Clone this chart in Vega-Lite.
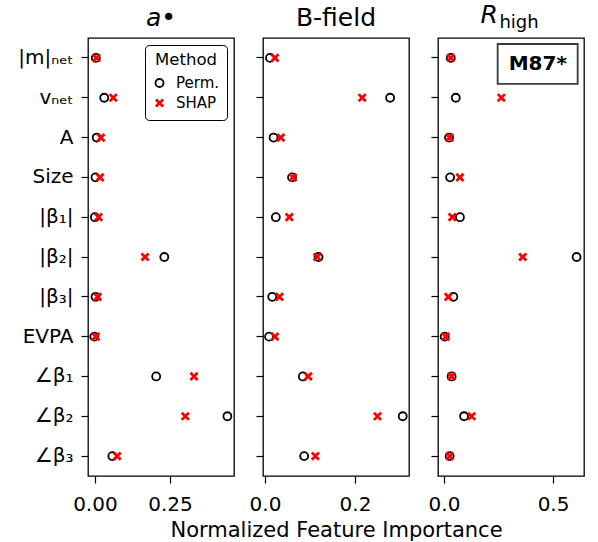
{
  "$schema": "https://vega.github.io/schema/vega-lite/v6.json",
  "padding": {"left": 17, "right": 5, "top": 3, "bottom": 3},
  "background": "white",
  "config": {
    "font": "DejaVu Sans",
    "view": {"stroke": "black", "strokeWidth": 1.3},
    "axis": {"domain": false, "ticks": true, "tickColor": "black", "tickSize": 7, "tickWidth": 1.2, "labelColor": "black", "labelFont": "DejaVu Sans", "labelFontSize": 20, "grid": false, "titleFont": "DejaVu Sans", "titleFontSize": 21, "titleFontWeight": "normal", "titleColor": "black"},
    "title": {"font": "DejaVu Sans", "fontSize": 25, "fontWeight": "normal", "color": "black", "offset": 7, "anchor": "middle"}
  },
  "datasets": {
    "imp": [
      {"panel": "a", "feature": "|m|ₙₑₜ", "method": "Perm.", "value": 0.003},
      {"panel": "a", "feature": "vₙₑₜ", "method": "Perm.", "value": 0.031},
      {"panel": "a", "feature": "A", "method": "Perm.", "value": 0.006},
      {"panel": "a", "feature": "Size", "method": "Perm.", "value": 0.002},
      {"panel": "a", "feature": "|β₁|", "method": "Perm.", "value": 0.0},
      {"panel": "a", "feature": "|β₂|", "method": "Perm.", "value": 0.231},
      {"panel": "a", "feature": "|β₃|", "method": "Perm.", "value": 0.002},
      {"panel": "a", "feature": "EVPA", "method": "Perm.", "value": -0.002},
      {"panel": "a", "feature": "∠β₁", "method": "Perm.", "value": 0.204},
      {"panel": "a", "feature": "∠β₂", "method": "Perm.", "value": 0.441},
      {"panel": "a", "feature": "∠β₃", "method": "Perm.", "value": 0.058},
      {"panel": "B", "feature": "|m|ₙₑₜ", "method": "Perm.", "value": 0.011},
      {"panel": "B", "feature": "vₙₑₜ", "method": "Perm.", "value": 0.278},
      {"panel": "B", "feature": "A", "method": "Perm.", "value": 0.019},
      {"panel": "B", "feature": "Size", "method": "Perm.", "value": 0.060},
      {"panel": "B", "feature": "|β₁|", "method": "Perm.", "value": 0.024},
      {"panel": "B", "feature": "|β₂|", "method": "Perm.", "value": 0.119},
      {"panel": "B", "feature": "|β₃|", "method": "Perm.", "value": 0.016},
      {"panel": "B", "feature": "EVPA", "method": "Perm.", "value": 0.009},
      {"panel": "B", "feature": "∠β₁", "method": "Perm.", "value": 0.084},
      {"panel": "B", "feature": "∠β₂", "method": "Perm.", "value": 0.306},
      {"panel": "B", "feature": "∠β₃", "method": "Perm.", "value": 0.087},
      {"panel": "R", "feature": "|m|ₙₑₜ", "method": "Perm.", "value": 0.031},
      {"panel": "R", "feature": "vₙₑₜ", "method": "Perm.", "value": 0.054},
      {"panel": "R", "feature": "A", "method": "Perm.", "value": 0.023},
      {"panel": "R", "feature": "Size", "method": "Perm.", "value": 0.028},
      {"panel": "R", "feature": "|β₁|", "method": "Perm.", "value": 0.073},
      {"panel": "R", "feature": "|β₂|", "method": "Perm.", "value": 0.608},
      {"panel": "R", "feature": "|β₃|", "method": "Perm.", "value": 0.043},
      {"panel": "R", "feature": "EVPA", "method": "Perm.", "value": 0.003},
      {"panel": "R", "feature": "∠β₁", "method": "Perm.", "value": 0.035},
      {"panel": "R", "feature": "∠β₂", "method": "Perm.", "value": 0.092},
      {"panel": "R", "feature": "∠β₃", "method": "Perm.", "value": 0.026},
      {"panel": "a", "feature": "|m|ₙₑₜ", "method": "SHAP", "value": 0.005},
      {"panel": "a", "feature": "vₙₑₜ", "method": "SHAP", "value": 0.061},
      {"panel": "a", "feature": "A", "method": "SHAP", "value": 0.020},
      {"panel": "a", "feature": "Size", "method": "SHAP", "value": 0.017},
      {"panel": "a", "feature": "|β₁|", "method": "SHAP", "value": 0.012},
      {"panel": "a", "feature": "|β₂|", "method": "SHAP", "value": 0.167},
      {"panel": "a", "feature": "|β₃|", "method": "SHAP", "value": 0.009},
      {"panel": "a", "feature": "EVPA", "method": "SHAP", "value": 0.003},
      {"panel": "a", "feature": "∠β₁", "method": "SHAP", "value": 0.330},
      {"panel": "a", "feature": "∠β₂", "method": "SHAP", "value": 0.301},
      {"panel": "a", "feature": "∠β₃", "method": "SHAP", "value": 0.074},
      {"panel": "B", "feature": "|m|ₙₑₜ", "method": "SHAP", "value": 0.022},
      {"panel": "B", "feature": "vₙₑₜ", "method": "SHAP", "value": 0.216},
      {"panel": "B", "feature": "A", "method": "SHAP", "value": 0.035},
      {"panel": "B", "feature": "Size", "method": "SHAP", "value": 0.062},
      {"panel": "B", "feature": "|β₁|", "method": "SHAP", "value": 0.054},
      {"panel": "B", "feature": "|β₂|", "method": "SHAP", "value": 0.116},
      {"panel": "B", "feature": "|β₃|", "method": "SHAP", "value": 0.032},
      {"panel": "B", "feature": "EVPA", "method": "SHAP", "value": 0.022},
      {"panel": "B", "feature": "∠β₁", "method": "SHAP", "value": 0.096},
      {"panel": "B", "feature": "∠β₂", "method": "SHAP", "value": 0.250},
      {"panel": "B", "feature": "∠β₃", "method": "SHAP", "value": 0.112},
      {"panel": "R", "feature": "|m|ₙₑₜ", "method": "SHAP", "value": 0.031},
      {"panel": "R", "feature": "vₙₑₜ", "method": "SHAP", "value": 0.263},
      {"panel": "R", "feature": "A", "method": "SHAP", "value": 0.025},
      {"panel": "R", "feature": "Size", "method": "SHAP", "value": 0.073},
      {"panel": "R", "feature": "|β₁|", "method": "SHAP", "value": 0.038},
      {"panel": "R", "feature": "|β₂|", "method": "SHAP", "value": 0.361},
      {"panel": "R", "feature": "|β₃|", "method": "SHAP", "value": 0.020},
      {"panel": "R", "feature": "EVPA", "method": "SHAP", "value": 0.008},
      {"panel": "R", "feature": "∠β₁", "method": "SHAP", "value": 0.035},
      {"panel": "R", "feature": "∠β₂", "method": "SHAP", "value": 0.127},
      {"panel": "R", "feature": "∠β₃", "method": "SHAP", "value": 0.026}
    ]
  },
  "spacing": 29,
  "bounds": "flush",
  "resolve": {"scale": {"x": "independent", "color": "independent", "shape": "independent", "size": "independent", "strokeWidth": "independent"}, "legend": {"color": "independent", "shape": "independent"}},
  "hconcat": [
    {
      "width": 146, "height": 438,
      "title": {"text": "a•", "fontStyle": "italic"},
      "data": {"name": "imp"},
      "transform": [{"filter": "datum.panel === 'a'"}],
      "mark": {"type": "point", "filled": false, "opacity": 1},
      "encoding": {
        "x": {"field": "value", "type": "quantitative", "scale": {"domain": [-0.023, 0.463], "nice": false, "zero": false}, "axis": {"values": [0, 0.25], "format": ".2f", "title": null, "labelPadding": 11}},
        "y": {"field": "feature", "type": "nominal", "sort": ["|m|ₙₑₜ", "vₙₑₜ", "A", "Size", "|β₁|", "|β₂|", "|β₃|", "EVPA", "∠β₁", "∠β₂", "∠β₃"], "scale": {"type": "band", "paddingInner": 0, "paddingOuter": 0}, "axis": {"title": null, "labelPadding": 8}},
        "color": {"field": "method", "type": "nominal", "scale": {"domain": ["Perm.", "SHAP"], "range": ["black", "red"]}, "legend": {"title": "Method", "orient": "top-right", "offset": 7, "strokeColor": "black", "fillColor": "white", "padding": 7, "cornerRadius": 4, "titleAnchor": "middle", "titleFontSize": 16.5, "titleFontWeight": "normal", "titleColor": "black", "labelFontSize": 15, "labelColor": "black", "symbolSize": 35, "symbolStrokeWidth": 2.2, "symbolOffset": 0, "rowPadding": 2, "titlePadding": 7, "labelOffset": 9}},
        "shape": {"field": "method", "type": "nominal", "scale": {"domain": ["Perm.", "SHAP"], "range": ["circle", "M-1,-1L1,1M1,-1L-1,1"]}},
        "size": {"field": "method", "type": "nominal", "scale": {"domain": ["Perm.", "SHAP"], "range": [64, 52]}, "legend": null},
        "strokeWidth": {"field": "method", "type": "nominal", "scale": {"domain": ["Perm.", "SHAP"], "range": [1.8, 2.8]}, "legend": null}
      }
    },
    {
      "width": 146, "height": 438,
      "title": {"text": "B-field"},
      "data": {"name": "imp"},
      "transform": [{"filter": "datum.panel === 'B'"}],
      "mark": {"type": "point", "filled": false, "opacity": 1},
      "encoding": {
        "x": {"field": "value", "type": "quantitative", "scale": {"domain": [-0.0045, 0.32], "nice": false, "zero": false}, "axis": {"values": [0, 0.2], "format": ".1f", "title": "Normalized Feature Importance", "labelPadding": 11, "titlePadding": 5}},
        "y": {"field": "feature", "type": "nominal", "sort": ["|m|ₙₑₜ", "vₙₑₜ", "A", "Size", "|β₁|", "|β₂|", "|β₃|", "EVPA", "∠β₁", "∠β₂", "∠β₃"], "scale": {"type": "band", "paddingInner": 0, "paddingOuter": 0}, "axis": {"title": null, "labels": false}},
        "color": {"field": "method", "type": "nominal", "scale": {"domain": ["Perm.", "SHAP"], "range": ["black", "red"]}, "legend": null},
        "shape": {"field": "method", "type": "nominal", "scale": {"domain": ["Perm.", "SHAP"], "range": ["circle", "M-1,-1L1,1M1,-1L-1,1"]}, "legend": null},
        "size": {"field": "method", "type": "nominal", "scale": {"domain": ["Perm.", "SHAP"], "range": [64, 52]}, "legend": null},
        "strokeWidth": {"field": "method", "type": "nominal", "scale": {"domain": ["Perm.", "SHAP"], "range": [1.8, 2.8]}, "legend": null}
      }
    },
    {
      "title": {"text": "R", "fontStyle": "italic", "dx": -17, "dy": 15, "offset": 0},
      "bounds": "flush",
      "vconcat": [
        {
          "width": 146, "height": 438,
          "title": {"text": "high", "fontSize": 18, "dx": 8, "offset": 6},
          "layer": [
            {
              "data": {"name": "imp"},
              "transform": [{"filter": "datum.panel === 'R'"}],
              "mark": {"type": "point", "filled": false, "opacity": 1},
              "encoding": {
                "x": {"field": "value", "type": "quantitative", "scale": {"domain": [-0.0275, 0.642], "nice": false, "zero": false}, "axis": {"values": [0, 0.5], "format": ".1f", "title": null, "labelPadding": 11}},
                "y": {"field": "feature", "type": "nominal", "sort": ["|m|ₙₑₜ", "vₙₑₜ", "A", "Size", "|β₁|", "|β₂|", "|β₃|", "EVPA", "∠β₁", "∠β₂", "∠β₃"], "scale": {"type": "band", "paddingInner": 0, "paddingOuter": 0}, "axis": {"title": null, "labels": false}},
                "color": {"field": "method", "type": "nominal", "scale": {"domain": ["Perm.", "SHAP"], "range": ["black", "red"]}, "legend": null},
                "shape": {"field": "method", "type": "nominal", "scale": {"domain": ["Perm.", "SHAP"], "range": ["circle", "M-1,-1L1,1M1,-1L-1,1"]}, "legend": null},
                "size": {"field": "method", "type": "nominal", "scale": {"domain": ["Perm.", "SHAP"], "range": [64, 52]}, "legend": null},
                "strokeWidth": {"field": "method", "type": "nominal", "scale": {"domain": ["Perm.", "SHAP"], "range": [1.8, 2.8]}, "legend": null}
              }
            },
            {
              "data": {"values": [{"label": "M87*"}]},
              "mark": {"type": "rect", "fill": "white", "stroke": "#3a3a3a", "strokeWidth": 1.8, "yOffset": 6},
              "encoding": {
                "x": {"datum": 0.246},
                "x2": {"datum": 0.613},
                "y": {"datum": "|m|ₙₑₜ"}
              }
            },
            {
              "data": {"values": [{"label": "M87*"}]},
              "mark": {"type": "text", "fontWeight": "bold", "fontSize": 20, "color": "black", "yOffset": 6, "baseline": "middle", "align": "center"},
              "encoding": {
                "x": {"datum": 0.43},
                "y": {"datum": "|m|ₙₑₜ"},
                "text": {"field": "label"}
              }
            }
          ]
        }
      ]
    }
  ]
}
